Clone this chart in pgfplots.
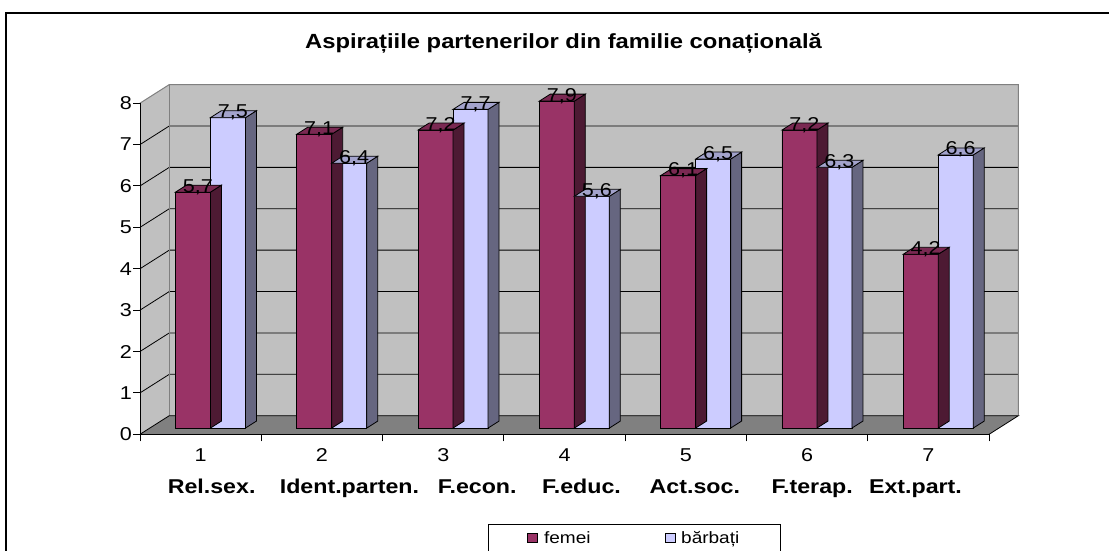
\documentclass[border=0pt]{standalone}
\usepackage{pgfplots}
\pgfplotsset{compat=1.18}
\usepackage{pgfplotstable}
\usepackage{fontspec}
\setmainfont{Liberation Sans}[FakeStretch=1.16]

\definecolor{fem}{HTML}{993366}
\definecolor{femside}{HTML}{4D1A33}
\definecolor{femtop}{HTML}{7A2952}
\definecolor{barb}{HTML}{CCCCFF}
\definecolor{barbside}{HTML}{666680}
\definecolor{barbtop}{HTML}{A3A3CC}
\definecolor{wallc}{HTML}{C0C0C0}
\definecolor{floorc}{HTML}{808080}

\pgfplotstableread{
x f b
1 5.7 7.5
2 7.1 6.4
3 7.2 7.7
4 7.9 5.6
5 6.1 6.5
6 7.2 6.3
7 4.2 6.6
}\data

\pgfdeclareplotmark{nothing}{}
\tikzset{dp/.style={shift={(29.3pt,18.6pt)}}}
\newcommand{\cl}[3]{#1\\\makebox[0pt]{\hspace{#3pt}\fontsize{20}{32.3}\selectfont\bfseries #2}}
\newcommand{\vlab}{\raisebox{0pt}[0pt][0pt]{\fontsize{18.6}{20}\selectfont\pgfmathprintnumber[fixed,fixed zerofill,precision=1,use comma,assume math mode=true]{\pgfplotspointmeta}}}

\begin{document}
\begin{tikzpicture}[x=1pt,y=1pt]
\useasboundingbox (0,0) rectangle (1109,551);
\fill[white] (0,0) rectangle (1109,551);
\draw[black, line width=1.5pt] (6,-20) rectangle (1130,538);
\node[anchor=base, inner sep=0pt, font=\fontsize{20.5}{24}\selectfont\bfseries] at (563.5,502) {Aspirațiile partenerilor din familie conațională};

\begin{axis}[
  at={(140pt,116.7pt)}, anchor=south west,
  x=121.3pt, y=41.39pt,
  xmin=0.5, xmax=7.5, ymin=0, ymax=8,
  axis lines*=left,
  axis line style={black, line width=1pt},
  axis on top,
  clip=false,
  tick align=outside,
  tick style={black, line width=1pt},
  major tick length=7pt,
  ytick={0,1,...,8},
  xtick={0.5,1.5,2.5,3.5,4.5,5.5,6.5,7.5},
  xticklabels={},
  extra x ticks={1,2,3,4,5,6,7},
  extra x tick labels={\cl{1}{Rel.sex.}{22},\cl{2}{Ident.parten.}{55},\cl{3}{F.econ.}{68},\cl{4}{F.educ.}{34},\cl{5}{Act.soc.}{18},\cl{6}{F.terap.}{10},\cl{7}{Ext.part.}{-26}},
  extra x tick style={major tick length=0pt},
  xticklabel style={align=center, inner sep=0pt, yshift=-14pt, font=\fontsize{18.6}{32.3}\selectfont},
  yticklabel style={inner sep=0pt, xshift=-1pt, font=\fontsize{18.6}{20}\selectfont},
  /pgf/number format/assume math mode=true,
]
\fill[wallc] (axis cs:0.5,0) -- (axis cs:0.5,8) -- ([dp]axis cs:0.5,8) -- ([dp]axis cs:0.5,0) -- cycle;
\fill[wallc] ([dp]axis cs:0.5,0) rectangle ([dp]axis cs:7.5,8);
\fill[floorc] (axis cs:0.5,0) -- (axis cs:7.5,0) -- ([dp]axis cs:7.5,0) -- ([dp]axis cs:0.5,0) -- cycle;
\pgfplotsinvokeforeach{1,...,7}{\draw[black, line width=0.8pt] (axis cs:0.5,#1) -- ([dp]axis cs:0.5,#1) -- ([dp]axis cs:7.5,#1);}
\draw[floorc, line width=1pt] (axis cs:0.5,8) -- ([dp]axis cs:0.5,8) -- ([dp]axis cs:7.5,8) -- ([dp]axis cs:7.5,0);
\draw[floorc, line width=1pt] ([dp]axis cs:0.5,8) -- ([dp]axis cs:0.5,0);
\draw[black, line width=0.8pt] (axis cs:0.5,0) -- ([dp]axis cs:0.5,0) -- ([dp]axis cs:7.5,0) -- (axis cs:7.5,0);
\end{axis}

\begin{axis}[
  at={(149.77pt,122.9pt)}, anchor=south west,
  x=121.3pt, y=41.39pt,
  xmin=0.5, xmax=7.5, ymin=0, ymax=8,
  point meta min=0, point meta max=8,
  axis lines=none, clip=false,
  legend style={at={(axis description cs:0.3984,-0.2896)}, anchor=north west,
    legend columns=2, draw=black, line width=0.8pt,
    font=\fontsize{16.4}{18}\selectfont, inner xsep=39pt, inner ysep=5pt,
    /tikz/every odd column/.append style={column sep=4pt},
    /tikz/every even column/.append style={column sep=72pt}},
  legend cell align=left,
]
\addlegendimage{legend image code/.code={\draw[fill=fem, draw=black, line width=0.6pt] (0pt,-4.6pt) rectangle (10pt,4.6pt);}}
\addlegendimage{legend image code/.code={\draw[fill=barb, draw=black, line width=0.6pt] (0pt,-4.6pt) rectangle (10pt,4.6pt);}}
\legend{femei, bărbați}

\addplot[forget plot, only marks, mark=nothing, scatter, point meta=y,
  scatter/@pre marker code/.code={%
    \filldraw[fill=femside, draw=black, line width=0.8pt] (0pt,0pt) -- (11pt,7pt) -- (11pt,{7pt-\pgfplotspointmetatransformed*0.33112pt}) -- (0pt,{-\pgfplotspointmetatransformed*0.33112pt}) -- cycle;
    \filldraw[fill=femtop, draw=black, line width=0.8pt] (-35pt,0pt) -- (0pt,0pt) -- (11pt,7pt) -- (-24pt,7pt) -- cycle;},
  scatter/@post marker code/.code={}]
  table[x=x,y=f]{\data};
\addplot[forget plot, ybar, bar width=35pt, bar shift=-17.5pt, fill=fem, draw=black, line width=0.8pt,
  nodes near coords={\vlab},
  every node near coord/.append style={anchor=base, xshift=-12.5pt, yshift=0pt, inner sep=0pt, text=black}]
  table[x=x,y=f]{\data};

\addplot[forget plot, only marks, mark=nothing, scatter, point meta=y,
  scatter/@pre marker code/.code={%
    \filldraw[fill=barbside, draw=black, line width=0.8pt] (35pt,0pt) -- (46pt,7pt) -- (46pt,{7pt-\pgfplotspointmetatransformed*0.33112pt}) -- (35pt,{-\pgfplotspointmetatransformed*0.33112pt}) -- cycle;
    \filldraw[fill=barbtop, draw=black, line width=0.8pt] (0pt,0pt) -- (35pt,0pt) -- (46pt,7pt) -- (11pt,7pt) -- cycle;},
  scatter/@post marker code/.code={}]
  table[x=x,y=b]{\data};
\addplot[forget plot, ybar, bar width=35pt, bar shift=17.5pt, fill=barb, draw=black, line width=0.8pt,
  nodes near coords={\vlab},
  every node near coord/.append style={anchor=base, xshift=22.5pt, yshift=0pt, inner sep=0pt, text=black}]
  table[x=x,y=b]{\data};
\end{axis}
\end{tikzpicture}
\end{document}
